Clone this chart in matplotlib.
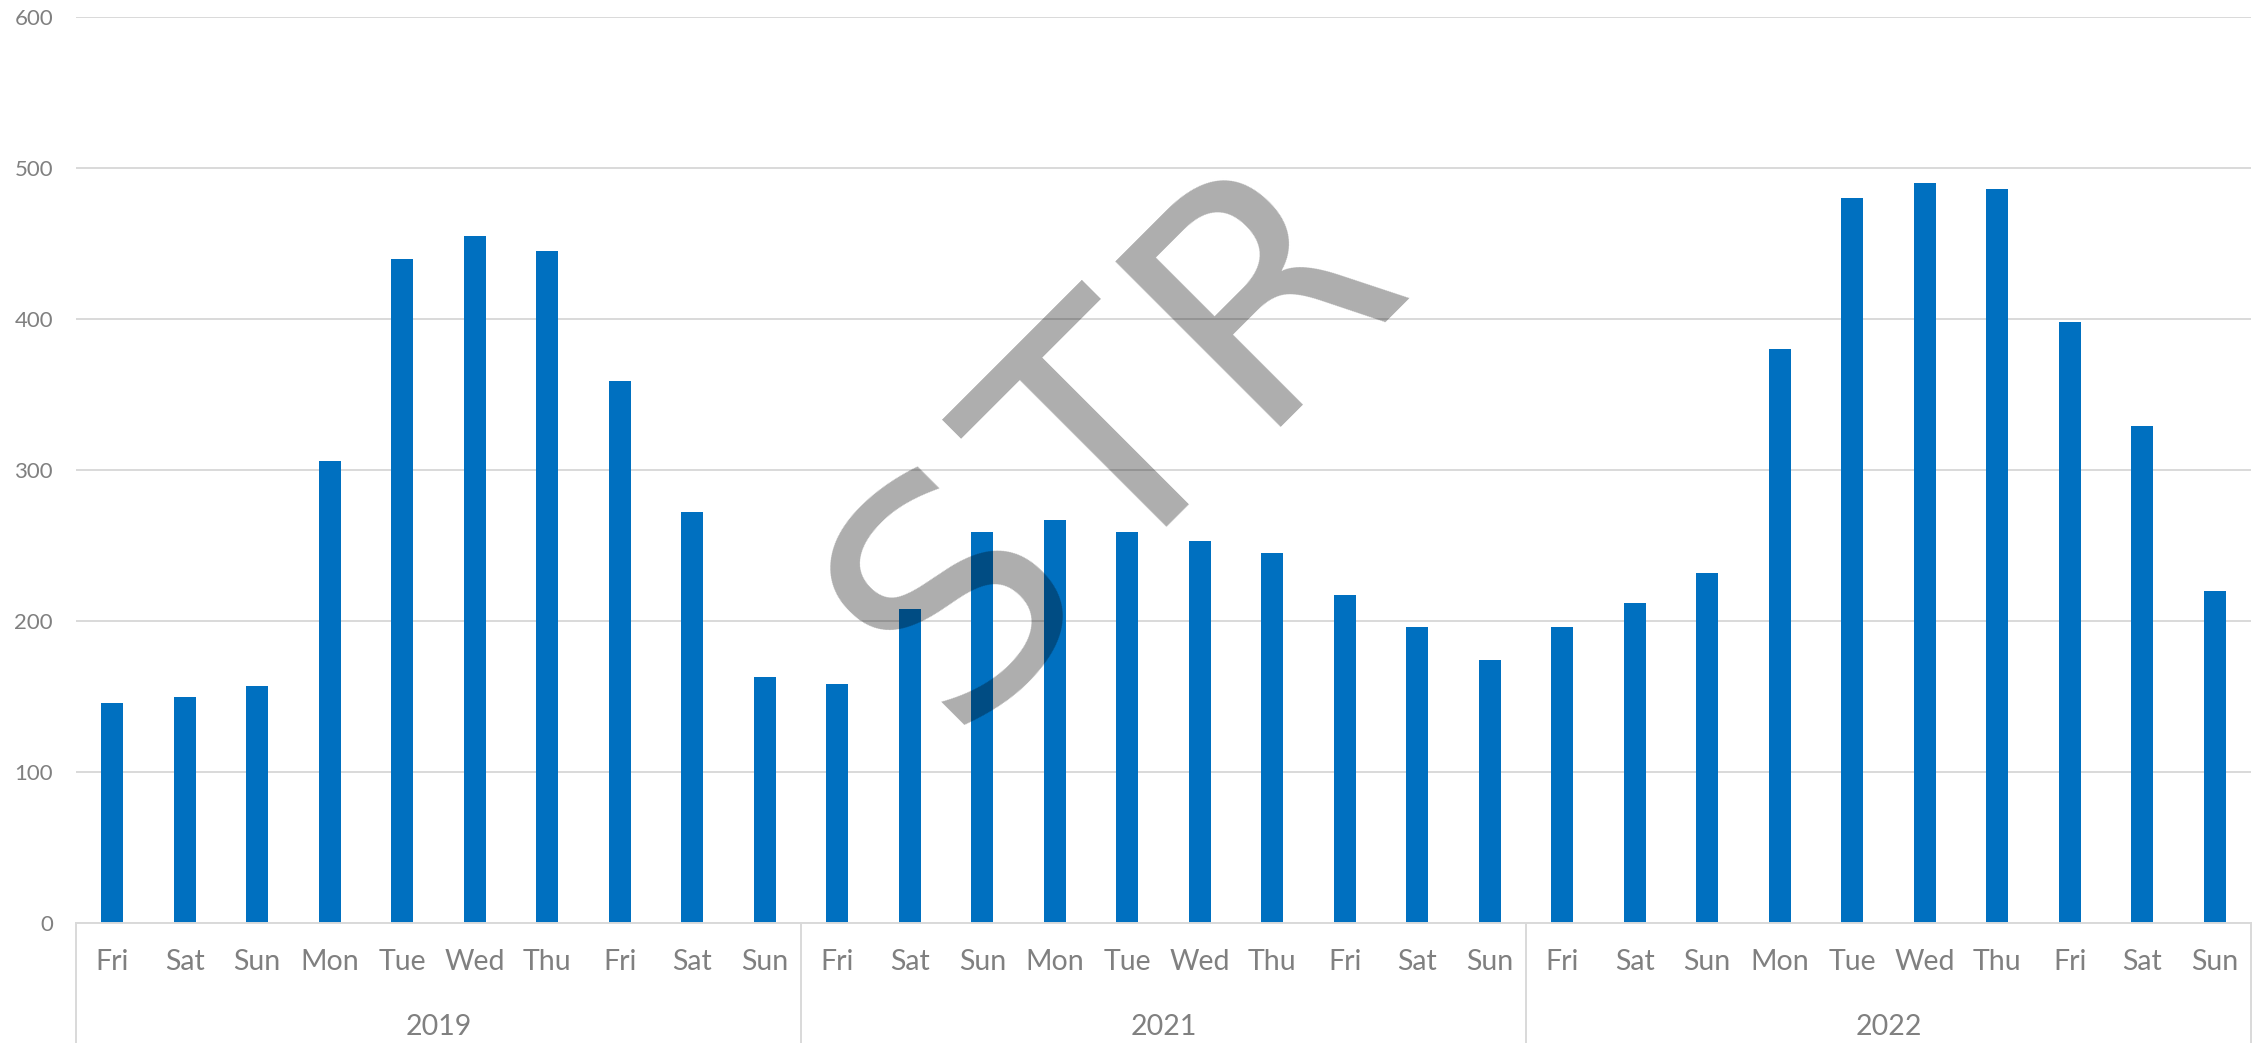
import numpy as np
import matplotlib.pyplot as plt
from matplotlib.transforms import blended_transform_factory

# data
years = ['2019', '2021', '2022']
days = ['Fri', 'Sat', 'Sun', 'Mon', 'Tue', 'Wed', 'Thu', 'Fri', 'Sat', 'Sun']
vals_2019 = [146, 150, 157, 306, 440, 455, 445, 359, 272, 163]
vals_2021 = [158, 208, 259, 267, 259, 253, 245, 217, 196, 174]
vals_2022 = [196, 212, 232, 380, 480, 490, 486, 398, 329, 220]
yticks = [0, 100, 200, 300, 400, 500, 600]

values = vals_2019 + vals_2021 + vals_2022
labels = days * len(years)
x = np.arange(len(values))

plt.rcParams['font.family'] = ['Lato', 'DejaVu Sans']
W, H = 2259, 1043
fig = plt.figure(figsize=(W / 100, H / 100), dpi=100)
ax = fig.add_axes([76 / W, 1 - 923 / H, (2251 - 76) / W, (923 - 17) / H])

grey = '#D9D9D9'
txt = '#808080'

ax.bar(x, values, width=0.31, color='#0070C0', zorder=2)
ax.set_xlim(-0.5, len(values) - 0.5)
ax.set_ylim(0, 600)
ax.set_yticks(yticks)
ax.grid(axis='y', color=grey, linewidth=1.4, zorder=0)
ax.tick_params(axis='y', length=0, pad=16.5, labelsize=16, labelcolor=txt)

ax.set_xticks(x)
ax.set_xticklabels(labels)
ax.tick_params(axis='x', length=0, pad=19, labelsize=20.5, labelcolor=txt)

for s in ['top', 'right', 'left']:
    ax.spines[s].set_visible(False)
ax.spines['bottom'].set_color(grey)
ax.spines['bottom'].set_linewidth(1.4)

# year groups and separators below the axis
trans = blended_transform_factory(ax.transData, ax.transAxes)
n = len(days)
for i, yr in enumerate(years):
    ax.text(i * n + (n - 1) / 2, -0.1148, yr, transform=trans, ha='center',
            va='center', fontsize=20.5, color=txt)
for b in range(len(years) + 1):
    ax.plot([b * n - 0.5, b * n - 0.5], [0, -0.14], transform=trans,
            color=grey, linewidth=1.4, clip_on=False)

# watermark, one letter at a time along a 45 degree baseline
for ch, (px, py) in zip('STR', [(1022, 660), (1179, 516), (1328, 348)]):
    fig.text(px / W, 1 - py / H, ch, fontsize=231, family='DejaVu Sans',
             color='black', alpha=0.32, rotation=45, rotation_mode='anchor',
             ha='center', va='baseline', zorder=5)

fig.savefig('out.png', dpi=100)
